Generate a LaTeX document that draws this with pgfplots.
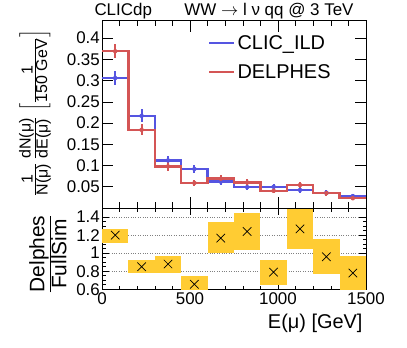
\documentclass[border=0pt]{standalone}
\usepackage{fontspec}
\setmainfont{Liberation Sans}
\usepackage{amsmath}
\usepackage{pgfplots}
\pgfplotsset{compat=1.18}

\definecolor{clicblue}{RGB}{85,85,225}
\definecolor{delred}{RGB}{212,85,85}
\definecolor{bandyel}{RGB}{255,204,51}

% tight text fraction for the axis titles
\newcommand{\tf}[2]{\frac{\textstyle\text{#1}}{\textstyle\text{#2}}}

\pgfplotsset{
  panel/.style={
    scale only axis, width=264bp, xmin=0, xmax=1500,
    xtick={0,500,1000,1500}, minor x tick num=4,
    tick style={black, line width=0.6pt},
    axis line style={line width=0.8pt},
    /pgf/number format/assume math mode=true,
    ticklabel style={font=\fontsize{17}{17}\selectfont},
    yticklabel style={inner sep=2bp},
    xticklabel style={inner sep=3bp},
  }
}

\begin{document}
\begin{tikzpicture}
\useasboundingbox (0bp,0bp) rectangle (407bp,348bp);

% upper panel: normalised muon energy
\begin{axis}[panel, at={(102bp,140bp)}, anchor=south west, height=187.3bp,
  ymin=0, ymax=0.441,
  ytick={0.05,0.1,0.15,0.2,0.25,0.3,0.35,0.4},
  yticklabels={0.05,0.1,0.15,0.2,0.25,0.3,0.35,0.4},
  xticklabels={},
  major tick length=11bp, minor tick length=5.5bp,
  legend style={draw=none, fill=none, at={(0.39,0.945)}, anchor=north west,
    font=\fontsize{20}{20}\selectfont, row sep=10bp},
  legend cell align=left,
  legend image code/.code={\draw[#1] (0bp,0bp) -- (25bp,0bp);},
]
\addplot[clicblue, line width=2.4bp, const plot] coordinates {
(0,0.306) (150,0.217) (300,0.112) (450,0.092) (600,0.062) (750,0.049)
(900,0.050) (1050,0.0425) (1200,0.036) (1350,0.028) (1500,0.028)};
\addlegendentry{CLIC\_ILD}
\addplot[delred, line width=2.4bp, const plot] coordinates {
(0,0.369) (150,0.184) (300,0.098) (450,0.059) (600,0.069) (750,0.060)
(900,0.0405) (1050,0.054) (1200,0.035) (1350,0.023) (1500,0.023)};
\addlegendentry{DELPHES}

\addplot[clicblue, only marks, mark=none, forget plot,
  error bars/.cd, y dir=both, y explicit, error mark=none,
  error bar style={line width=2bp, clicblue}] coordinates {
(75,0.306) +- (0,0.016)   (225,0.217) +- (0,0.015)  (375,0.112) +- (0,0.011)
(525,0.092) +- (0,0.010)  (675,0.062) +- (0,0.008)  (825,0.049) +- (0,0.007)
(975,0.050) +- (0,0.007)  (1125,0.0425) +- (0,0.007) (1275,0.036) +- (0,0.006)
(1425,0.028) +- (0,0.006)};
\addplot[delred, only marks, mark=none, forget plot,
  error bars/.cd, y dir=both, y explicit, error mark=none,
  error bar style={line width=2bp, delred}] coordinates {
(75,0.369) +- (0,0.017)   (225,0.184) +- (0,0.013)  (375,0.098) +- (0,0.010)
(525,0.059) +- (0,0.007)  (675,0.069) +- (0,0.008)  (825,0.060) +- (0,0.008)
(975,0.0405) +- (0,0.006) (1125,0.054) +- (0,0.008) (1275,0.035) +- (0,0.006)
(1425,0.023) +- (0,0.005)};
\end{axis}

% lower panel: ratio Delphes / full simulation
\begin{axis}[panel, at={(102bp,58.7bp)}, anchor=south west, height=81.3bp,
  ymin=0.6, ymax=1.5,
  ytick={0.6,0.8,1,1.2,1.4}, yticklabels={0.6,0.8,1,1.2,1.4},
  minor y tick num=3,
  xticklabels={0,500,1000,1500},
  major tick length=7bp, minor tick length=3.5bp,
  ymajorgrids, major grid style={dotted, gray, line width=0.8pt},
]
\addplot[fill=bandyel, draw=none] coordinates {(0,1.117) (150,1.117) (150,1.273) (0,1.273)} -- cycle;
\addplot[fill=bandyel, draw=none] coordinates {(150,0.778) (300,0.778) (300,0.925) (150,0.925)} -- cycle;
\addplot[fill=bandyel, draw=none] coordinates {(300,0.778) (450,0.778) (450,0.973) (300,0.973)} -- cycle;
\addplot[fill=bandyel, draw=none] coordinates {(450,0.560) (600,0.560) (600,0.748) (450,0.748)} -- cycle;
\addplot[fill=bandyel, draw=none] coordinates {(600,1.000) (750,1.000) (750,1.340) (600,1.340)} -- cycle;
\addplot[fill=bandyel, draw=none] coordinates {(750,1.037) (900,1.037) (900,1.440) (750,1.440)} -- cycle;
\addplot[fill=bandyel, draw=none] coordinates {(900,0.648) (1050,0.648) (1050,0.925) (900,0.925)} -- cycle;
\addplot[fill=bandyel, draw=none] coordinates {(1050,1.048) (1200,1.048) (1200,1.490) (1050,1.490)} -- cycle;
\addplot[fill=bandyel, draw=none] coordinates {(1200,0.770) (1350,0.770) (1350,1.155) (1200,1.155)} -- cycle;
\addplot[fill=bandyel, draw=none] coordinates {(1350,0.560) (1500,0.560) (1500,0.970) (1350,0.970)} -- cycle;
\addplot[only marks, mark=x, mark size=6bp, black, line width=0.7pt] coordinates {
(75,1.20) (225,0.85) (375,0.88) (525,0.655) (675,1.167)
(825,1.24) (975,0.79) (1125,1.27) (1275,0.96) (1425,0.78)};
\end{axis}

\node[anchor=base west, font=\fontsize{17}{17}\selectfont] at (91bp,332bp) {CLICdp};
\node[anchor=base east, font=\fontsize{17}{17}\selectfont] at (357bp,332bp) {WW $\rightarrow$ l ν qq @ 3 TeV};
\node[anchor=base east, font=\fontsize{20}{20}\selectfont] at (366bp,20bp) {E(μ) [GeV]};
\node[rotate=90, font=\fontsize{16}{16}\selectfont] at (35bp,235bp)
  {$\tf{1}{N(μ)}\,\tf{dN(μ)}{dE(μ)}\,\left[\tf{1}{150 GeV}\right]$};
\node[rotate=90, font=\fontsize{21}{21}\selectfont] at (48bp,94bp)
  {$\tf{Delphes}{FullSim}$};
\end{tikzpicture}
\end{document}
